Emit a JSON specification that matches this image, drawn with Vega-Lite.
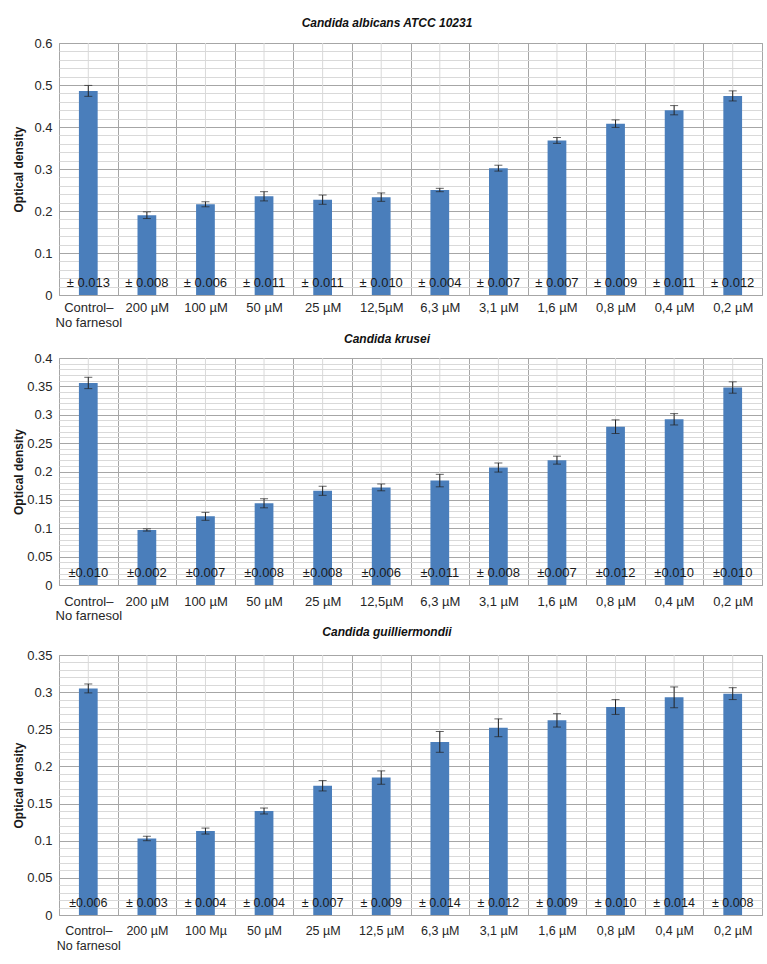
{
  "$schema": "https://vega.github.io/schema/vega-lite/v6.json",
  "padding": {"left": 11, "top": 16, "right": 5, "bottom": 0},
  "spacing": 2,
  "config": {
    "font": "Liberation Sans",
    "view": {"stroke": "#A6A6A6", "strokeWidth": 1},
    "axis": {"labelColor": "#262626", "titleColor": "#1a1a1a", "labelFont": "Liberation Sans", "titleFont": "Liberation Sans"},
    "title": {"fontSize": 12, "fontWeight": "bold", "fontStyle": "italic", "color": "#111111", "anchor": "middle", "frame": "bounds"}
  },
  "datasets": {
    "albicans": [
      {"conc": "Control–|No farnesol", "od": 0.486, "sd": 0.013, "label": "± 0.013"},
      {"conc": "200 µM", "od": 0.19, "sd": 0.008, "label": "± 0.008"},
      {"conc": "100 µM", "od": 0.216, "sd": 0.006, "label": "± 0.006"},
      {"conc": "50 µM", "od": 0.235, "sd": 0.011, "label": "± 0.011"},
      {"conc": "25 µM", "od": 0.227, "sd": 0.011, "label": "± 0.011"},
      {"conc": "12,5µM", "od": 0.233, "sd": 0.010, "label": "± 0.010"},
      {"conc": "6,3 µM", "od": 0.25, "sd": 0.004, "label": "± 0.004"},
      {"conc": "3,1 µM", "od": 0.302, "sd": 0.007, "label": "± 0.007"},
      {"conc": "1,6 µM", "od": 0.368, "sd": 0.007, "label": "± 0.007"},
      {"conc": "0,8 µM", "od": 0.408, "sd": 0.009, "label": "± 0.009"},
      {"conc": "0,4 µM", "od": 0.44, "sd": 0.011, "label": "± 0.011"},
      {"conc": "0,2 µM", "od": 0.474, "sd": 0.012, "label": "± 0.012"}
    ],
    "krusei": [
      {"conc": "Control–|No farnesol", "od": 0.356, "sd": 0.010, "label": "±0.010"},
      {"conc": "200 µM", "od": 0.097, "sd": 0.002, "label": "±0.002"},
      {"conc": "100 µM", "od": 0.121, "sd": 0.007, "label": "±0.007"},
      {"conc": "50 µM", "od": 0.144, "sd": 0.008, "label": "±0.008"},
      {"conc": "25 µM", "od": 0.166, "sd": 0.008, "label": "±0.008"},
      {"conc": "12,5µM", "od": 0.172, "sd": 0.006, "label": "±0.006"},
      {"conc": "6,3 µM", "od": 0.184, "sd": 0.011, "label": "±0.011"},
      {"conc": "3,1 µM", "od": 0.207, "sd": 0.008, "label": "± 0.008"},
      {"conc": "1,6 µM", "od": 0.22, "sd": 0.007, "label": "±0.007"},
      {"conc": "0,8 µM", "od": 0.279, "sd": 0.012, "label": "±0.012"},
      {"conc": "0,4 µM", "od": 0.292, "sd": 0.010, "label": "±0.010"},
      {"conc": "0,2 µM", "od": 0.348, "sd": 0.010, "label": "±0.010"}
    ],
    "guill": [
      {"conc": "Control–|No farnesol", "od": 0.305, "sd": 0.006, "label": "±0.006"},
      {"conc": "200 µM", "od": 0.103, "sd": 0.003, "label": "± 0.003"},
      {"conc": "100 Mµ", "od": 0.113, "sd": 0.004, "label": "± 0.004"},
      {"conc": "50 µM", "od": 0.14, "sd": 0.004, "label": "± 0.004"},
      {"conc": "25 µM", "od": 0.174, "sd": 0.007, "label": "± 0.007"},
      {"conc": "12,5 µM", "od": 0.185, "sd": 0.009, "label": "± 0.009"},
      {"conc": "6,3 µM", "od": 0.233, "sd": 0.014, "label": "± 0.014"},
      {"conc": "3,1 µM", "od": 0.252, "sd": 0.012, "label": "± 0.012"},
      {"conc": "1,6 µM", "od": 0.262, "sd": 0.009, "label": "± 0.009"},
      {"conc": "0,8 µM", "od": 0.28, "sd": 0.010, "label": "± 0.010"},
      {"conc": "0,4 µM", "od": 0.293, "sd": 0.014, "label": "± 0.014"},
      {"conc": "0,2 µM", "od": 0.298, "sd": 0.008, "label": "± 0.008"}
    ]
  },
  "vconcat": [
    {
      "width": 703, "height": 252,
      "title": {"text": "Candida albicans ATCC 10231", "offset": 7},
      "data": {"name": "albicans"},
      "resolve": {"axis": {"x": "independent", "y": "independent"}},
      "layer": [
        {
          "mark": {"type": "rule", "color": "#D9D9D9"},
          "encoding": {
            "x": {"field": "conc", "type": "nominal", "sort": null, "scale": {"paddingInner": 0, "paddingOuter": 0}, "axis": null}
          }
        },
        {
          "mark": {"type": "bar", "color": "#4A7EBB", "width": {"band": 0.32}},
          "encoding": {
            "x": {"field": "conc", "type": "nominal", "sort": null,
              "axis": {"orient": "bottom", "title": null, "labelAngle": 0, "tickBand": "extent", "grid": true, "gridColor": "#A6A6A6", "ticks": false, "domain": false, "labelPadding": 6, "labelFontSize": 13, "labelLineHeight": 15, "labelExpr": "split(datum.label, '|')"}},
            "y": {"field": "od", "type": "quantitative", "title": "Optical density", "scale": {"domain": [0, 0.6], "nice": false},
              "axis": {"orient": "left", "values": [0, 0.1, 0.2, 0.3, 0.4, 0.5, 0.6], "format": "~g", "labelOverlap": false,
                "ticks": false, "domain": false, "labelPadding": 7, "labelFontSize": 13, "grid": true, "gridColor": "#A6A6A6", "zindex": 0,
                "titleFontSize": 12, "titleFontWeight": "bold", "titleX": -41, "titleBaseline": "middle", "titleAngle": 270}}
          }
        },
        {
          "mark": {"type": "errorbar", "ticks": {"size": 8}, "color": "#222222", "thickness": 1},
          "encoding": {
            "x": {"field": "conc", "type": "nominal", "sort": null, "axis": null},
            "y": {"field": "od", "type": "quantitative", "title": null,
              "axis": {"orient": "left", "values": [0.02,0.04,0.06,0.08,0.12,0.14,0.16,0.18,0.22,0.24,0.26,0.28,0.32,0.34,0.36,0.38,0.42,0.44,0.46,0.48,0.52,0.54,0.56,0.58],
                "labels": false, "ticks": false, "domain": false, "grid": true, "gridColor": "#D9D9D9", "title": null, "zindex": 0}},
            "yError": {"field": "sd"}
          }
        },
        {
          "mark": {"type": "text", "baseline": "bottom", "dy": -5, "fontSize": 13, "color": "#1a1a1a"},
          "encoding": {
            "x": {"field": "conc", "type": "nominal", "sort": null, "axis": null},
            "y": {"datum": 0, "type": "quantitative", "axis": null},
            "text": {"field": "label"}
          }
        }
      ]
    },
    {
      "width": 703, "height": 227,
      "title": {"text": "Candida krusei", "offset": 6},
      "data": {"name": "krusei"},
      "resolve": {"axis": {"x": "independent", "y": "independent"}},
      "layer": [
        {
          "mark": {"type": "rule", "color": "#D9D9D9"},
          "encoding": {
            "x": {"field": "conc", "type": "nominal", "sort": null, "scale": {"paddingInner": 0, "paddingOuter": 0}, "axis": null}
          }
        },
        {
          "mark": {"type": "bar", "color": "#4A7EBB", "width": {"band": 0.32}},
          "encoding": {
            "x": {"field": "conc", "type": "nominal", "sort": null,
              "axis": {"orient": "bottom", "title": null, "labelAngle": 0, "tickBand": "extent", "grid": true, "gridColor": "#A6A6A6", "ticks": false, "domain": false, "labelPadding": 10, "labelFontSize": 13, "labelLineHeight": 14, "labelExpr": "split(datum.label, '|')"}},
            "y": {"field": "od", "type": "quantitative", "title": "Optical density", "scale": {"domain": [0, 0.4], "nice": false},
              "axis": {"orient": "left", "values": [0, 0.05, 0.1, 0.15, 0.2, 0.25, 0.3, 0.35, 0.4], "format": "~g", "labelOverlap": false,
                "ticks": false, "domain": false, "labelPadding": 7, "labelFontSize": 13, "grid": true, "gridColor": "#A6A6A6", "zindex": 0,
                "titleFontSize": 12, "titleFontWeight": "bold", "titleX": -41, "titleBaseline": "middle", "titleAngle": 270}}
          }
        },
        {
          "mark": {"type": "errorbar", "ticks": {"size": 8}, "color": "#222222", "thickness": 1},
          "encoding": {
            "x": {"field": "conc", "type": "nominal", "sort": null, "axis": null},
            "y": {"field": "od", "type": "quantitative", "title": null,
              "axis": {"orient": "left", "values": [0.01,0.02,0.03,0.04,0.06,0.07,0.08,0.09,0.11,0.12,0.13,0.14,0.16,0.17,0.18,0.19,0.21,0.22,0.23,0.24,0.26,0.27,0.28,0.29,0.31,0.32,0.33,0.34,0.36,0.37,0.38,0.39],
                "labels": false, "ticks": false, "domain": false, "grid": true, "gridColor": "#D9D9D9", "title": null, "zindex": 0}},
            "yError": {"field": "sd"}
          }
        },
        {
          "mark": {"type": "text", "baseline": "bottom", "dy": -5, "fontSize": 13, "color": "#1a1a1a"},
          "encoding": {
            "x": {"field": "conc", "type": "nominal", "sort": null, "axis": null},
            "y": {"datum": 0, "type": "quantitative", "axis": null},
            "text": {"field": "label"}
          }
        }
      ]
    },
    {
      "width": 703, "height": 260,
      "title": {"text": "Candida guilliermondii", "offset": 10},
      "data": {"name": "guill"},
      "resolve": {"axis": {"x": "independent", "y": "independent"}},
      "layer": [
        {
          "mark": {"type": "rule", "color": "#D9D9D9"},
          "encoding": {
            "x": {"field": "conc", "type": "nominal", "sort": null, "scale": {"paddingInner": 0, "paddingOuter": 0}, "axis": null}
          }
        },
        {
          "mark": {"type": "bar", "color": "#4A7EBB", "width": {"band": 0.32}},
          "encoding": {
            "x": {"field": "conc", "type": "nominal", "sort": null,
              "axis": {"orient": "bottom", "title": null, "labelAngle": 0, "tickBand": "extent", "grid": true, "gridColor": "#A6A6A6", "ticks": false, "domain": false, "labelPadding": 9, "labelFontSize": 12.5, "labelLineHeight": 15, "labelExpr": "split(datum.label, '|')"}},
            "y": {"field": "od", "type": "quantitative", "title": "Optical density", "scale": {"domain": [0, 0.35], "nice": false},
              "axis": {"orient": "left", "values": [0, 0.05, 0.1, 0.15, 0.2, 0.25, 0.3, 0.35], "format": "~g", "labelOverlap": false,
                "ticks": false, "domain": false, "labelPadding": 7, "labelFontSize": 13, "grid": true, "gridColor": "#A6A6A6", "zindex": 0,
                "titleFontSize": 12, "titleFontWeight": "bold", "titleX": -41, "titleBaseline": "middle", "titleAngle": 270}}
          }
        },
        {
          "mark": {"type": "errorbar", "ticks": {"size": 8}, "color": "#222222", "thickness": 1},
          "encoding": {
            "x": {"field": "conc", "type": "nominal", "sort": null, "axis": null},
            "y": {"field": "od", "type": "quantitative", "title": null,
              "axis": {"orient": "left", "values": [0.01,0.02,0.03,0.04,0.06,0.07,0.08,0.09,0.11,0.12,0.13,0.14,0.16,0.17,0.18,0.19,0.21,0.22,0.23,0.24,0.26,0.27,0.28,0.29,0.31,0.32,0.33,0.34],
                "labels": false, "ticks": false, "domain": false, "grid": true, "gridColor": "#D9D9D9", "title": null, "zindex": 0}},
            "yError": {"field": "sd"}
          }
        },
        {
          "mark": {"type": "text", "baseline": "bottom", "dy": -5, "fontSize": 12.5, "color": "#1a1a1a"},
          "encoding": {
            "x": {"field": "conc", "type": "nominal", "sort": null, "axis": null},
            "y": {"datum": 0, "type": "quantitative", "axis": null},
            "text": {"field": "label"}
          }
        }
      ]
    }
  ]
}
